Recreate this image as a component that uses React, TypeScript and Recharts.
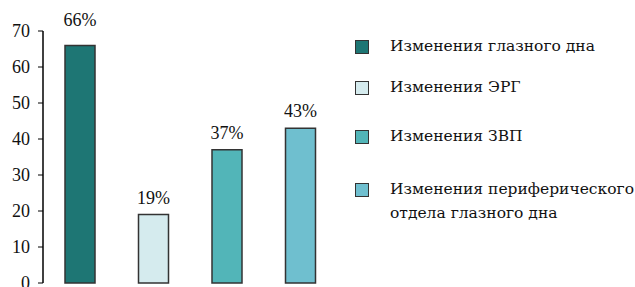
import { Bar, BarChart, Cell, LabelList, XAxis, YAxis } from "recharts";

const categories = [
  "Изменения глазного дна",
  "Изменения ЭРГ",
  "Изменения ЗВП",
  "Изменения периферического отдела глазного дна",
];
const legendLines = [
  ["Изменения глазного дна"],
  ["Изменения ЭРГ"],
  ["Изменения ЗВП"],
  ["Изменения периферического", "отдела глазного дна"],
];
const values = [66, 19, 37, 43];
const colors = ["#1e7674", "#d5ebee", "#52b5b8", "#6fbfcf"];
const yTicks = [0, 10, 20, 30, 40, 50, 60, 70];
const legendTops = [47, 88, 137, 190];

const data = categories.map((name, i) => ({ name, value: values[i] }));

const font = '"Liberation Serif", "DejaVu Serif", serif';
const cyrFont = '"DejaVu Serif", serif';
const PLOT_TOP = 31;

// value label above a bar; pushed over the frame line when it would touch it
function PercentLabel(props: any) {
  const { x, y, width, value } = props;
  let cy = y - 17;
  if (cy > PLOT_TOP - 14 && cy < PLOT_TOP + 10) cy = PLOT_TOP - 11;
  return (
    <text x={x + width / 2} y={cy} textAnchor="middle" dominantBaseline="central" fill="#111" fontSize={18} fontFamily={font}>
      {`${value}%`}
    </text>
  );
}

function ChartLegend() {
  return (
    <div style={{ position: "absolute", left: 349, top: 0, width: 286, height: 287, fontFamily: cyrFont, fontSize: 15.5, color: "#111" }}>
      {legendLines.map((lines, i) => (
        <div key={i}>
          <div
            style={{
              position: "absolute",
              left: 6,
              top: legendTops[i] - 7,
              width: 12,
              height: 12,
              background: colors[i],
              border: "1.5px solid #333",
            }}
          />
          {lines.map((t, j) => (
            <div
              key={j}
              style={{ position: "absolute", left: 41, top: legendTops[i] - 11 + j * 24, lineHeight: "20px", whiteSpace: "nowrap" }}
            >
              {t}
            </div>
          ))}
        </div>
      ))}
    </div>
  );
}

export default function App() {
  return (
    <div style={{ position: "absolute", left: 0, top: 0, width: 635, height: 287, background: "#fff", overflow: "hidden" }}>
      <BarChart width={635} height={287} data={data} margin={{ top: PLOT_TOP, right: 298, bottom: 4, left: 0 }} barSize={30}>
        <XAxis dataKey="name" tick={false} tickLine={false} height={0} axisLine={{ stroke: "#000", strokeWidth: 1.5 }} />
        <XAxis xAxisId="top" orientation="top" dataKey="name" tick={false} tickLine={false} height={0} axisLine={{ stroke: "#000", strokeWidth: 1.5 }} />
        <YAxis
          domain={[0, 70]}
          ticks={yTicks}
          width={43}
          tickSize={5}
          tickMargin={8}
          interval={0}
          axisLine={{ stroke: "#000", strokeWidth: 1.5 }}
          tickLine={{ stroke: "#000" }}
          tick={{ fill: "#111", fontSize: 18, fontFamily: font }}
        />
        <YAxis yAxisId="right" orientation="right" width={0} tick={false} tickLine={false} axisLine={{ stroke: "#000", strokeWidth: 1.5 }} />
        <Bar dataKey="value" isAnimationActive={false} stroke="#333" strokeWidth={1.5}>
          {data.map((d, i) => (
            <Cell key={d.name} fill={colors[i]} />
          ))}
          <LabelList dataKey="value" content={<PercentLabel />} />
        </Bar>
      </BarChart>
      <ChartLegend />
    </div>
  );
}
